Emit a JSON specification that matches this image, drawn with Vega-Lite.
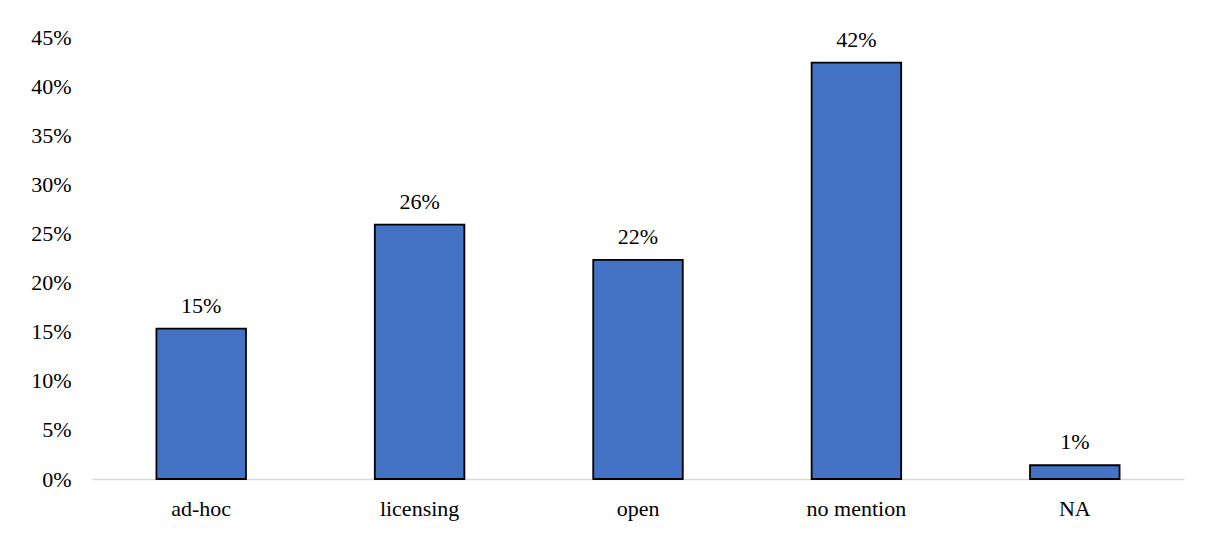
{
  "$schema": "https://vega.github.io/schema/vega-lite/v6.json",
  "autosize": {"type": "none"},
  "width": 1092,
  "height": 442,
  "padding": {"left": 92, "top": 37, "right": 24, "bottom": 55},
  "background": "white",
  "data": {
    "values": [
      {"category": "ad-hoc", "share": 0.153},
      {"category": "licensing", "share": 0.259},
      {"category": "open", "share": 0.223},
      {"category": "no mention", "share": 0.424},
      {"category": "NA", "share": 0.014}
    ]
  },
  "encoding": {
    "x": {
      "field": "category",
      "type": "nominal",
      "sort": null,
      "scale": {"paddingInner": 0.59, "paddingOuter": 0.295},
      "axis": {
        "title": null,
        "labelAngle": 0,
        "labelFont": "Liberation Serif",
        "labelFontSize": 22,
        "labelColor": "#000000",
        "labelBaseline": "alphabetic",
        "labelPadding": 36,
        "ticks": false,
        "domainColor": "#D9D9D9",
        "domainWidth": 1.5
      }
    },
    "y": {
      "field": "share",
      "type": "quantitative",
      "scale": {"domain": [0, 0.45], "nice": false},
      "axis": {
        "title": null,
        "format": ".0%",
        "values": [0, 0.05, 0.1, 0.15, 0.2, 0.25, 0.3, 0.35, 0.4, 0.45],
        "labelFont": "Liberation Serif",
        "labelFontSize": 22,
        "labelColor": "#000000",
        "labelPadding": 21,
        "ticks": false,
        "domain": false,
        "grid": false
      }
    }
  },
  "layer": [
    {
      "mark": {"type": "bar", "fill": "#4472C4", "stroke": "#000000", "strokeWidth": 1.8}
    },
    {
      "mark": {
        "type": "text",
        "baseline": "alphabetic",
        "dy": -16,
        "font": "Liberation Serif",
        "fontSize": 22,
        "color": "#000000"
      },
      "encoding": {
        "text": {"field": "share", "type": "quantitative", "format": ".0%"}
      }
    }
  ],
  "config": {"view": {"stroke": null}}
}
